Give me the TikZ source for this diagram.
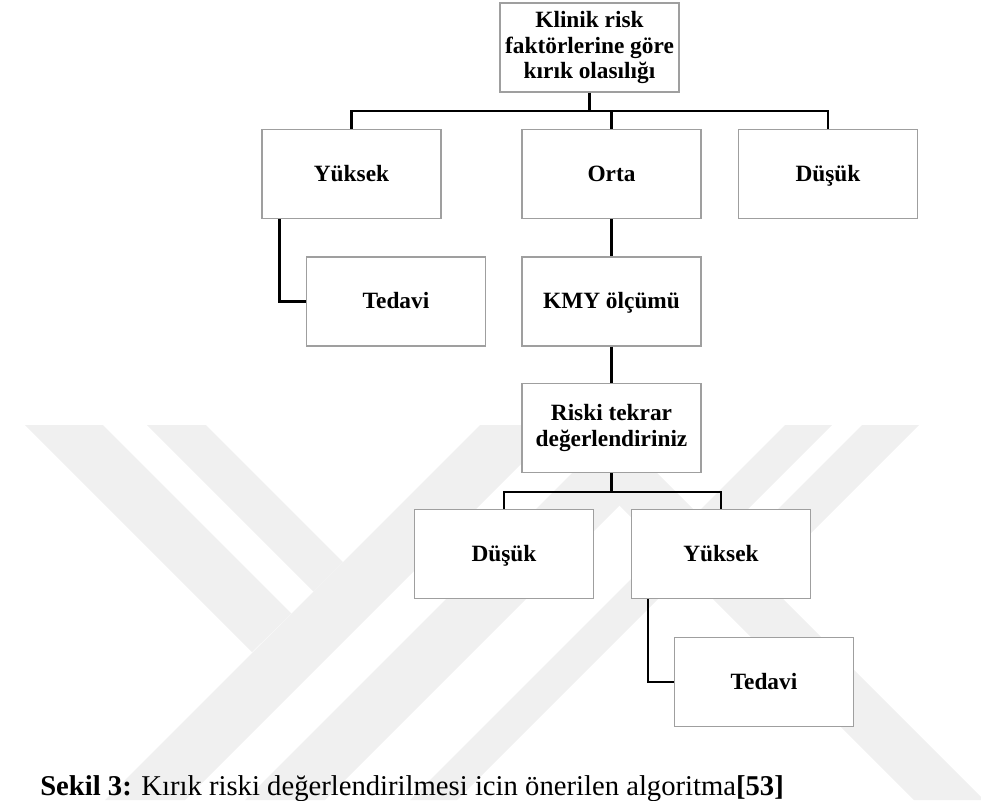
\documentclass[tikz,border=0pt]{standalone}
\usepackage{fontspec}
\setmainfont{Liberation Serif}
\usepackage{tikz}
\usetikzlibrary{positioning, calc}

\begin{document}
\begin{tikzpicture}[x=0.75pt, y=-0.75pt,
  box/.style={draw=gray!75, line width=0.8pt, fill=white, minimum width=134.25pt, minimum height=66.75pt, inner sep=2pt, align=center, font=\fontsize{17.5}{19}\selectfont\bfseries},
  single/.style={box, text height=10.6pt, text depth=0pt},
  conn/.style={line width=2.1pt},
  stripe/.style={fill=black!6}]
\useasboundingbox (0,0) rectangle (981,800);
% Watermark stripes in the background
\begin{scope}
\clip (0,425) rectangle (981,800);
\fill[stripe] (25,425) -- (103,425) -- (291.5,613.5) -- (252,652) -- cycle;
\fill[stripe] (147,425) -- (206,425) -- (343,562) -- (313.5,591.5) -- cycle;
\fill[stripe] (480,425) -- (560,425) -- (185,800) -- (105,800) -- cycle;
\fill[stripe] (620,425) -- (700,425) -- (325,800) -- (245,800) -- cycle;
\fill[stripe] (785,425) -- (832,425) -- (457,800) -- (410,800) -- cycle;
\fill[stripe] (539,425) -- (609,425) -- (984,800) -- (914,800) -- cycle;
\fill[stripe] (862,425) -- (919,425) -- (764,580) -- (735.5,551.5) -- cycle;
\end{scope}
% Boxes
\node[box] (klinik) at (589.5,47.5) {Klinik risk\\faktörlerine göre\\kırık olasılığı};
\node[single] (yuksek) at (351.5,174) {Yüksek};
\node[single] (orta) at (611.5,174) {Orta};
\node[single] (dusuk) at (828,174) {Düşük};
\node[single] (tedavi) at (396,301.5) {Tedavi};
\node[single] (kmy) at (611.5,301.5) {KMY ölçümü};
\node[box] (riski) at (611.5,428) {Riski tekrar\\değerlendiriniz};
\node[single] (dusukB) at (504,554) {Düşük};
\node[single] (yuksekB) at (721,554) {Yüksek};
\node[single] (tedaviB) at (764,682) {Tedavi};
% Connectors
\coordinate (barA) at (0,111);
\coordinate (barB) at (0,492);
\draw[conn] (klinik.south) -- (klinik.south |- barA);
\draw[conn] (yuksek.north) -- (yuksek.north |- barA) -- (dusuk.north |- barA) -- (dusuk.north);
\draw[conn] (orta.north) -- (orta.north |- barA);
\draw[conn] ($(yuksek.south west)+(18,0)$) |- (tedavi.west);
\draw[conn] (orta.south) -- (kmy.north);
\draw[conn] (kmy.south) -- (riski.north);
\draw[conn] (riski.south) -- (riski.south |- barB);
\draw[conn] (dusukB.north) -- (dusukB.north |- barB) -- (yuksekB.north |- barB) -- (yuksekB.north);
\draw[conn] ($(yuksekB.south west)+(17,0)$) |- (tedaviB.west);
% Caption
\node[anchor=base west, inner sep=0pt, font=\fontsize{21.5}{24}\selectfont] (caption) at (40,795) {\textbf{Sekil 3:} Kırık riski değerlendirilmesi icin önerilen algoritma\textbf{[53]}};
\end{tikzpicture}
\end{document}
